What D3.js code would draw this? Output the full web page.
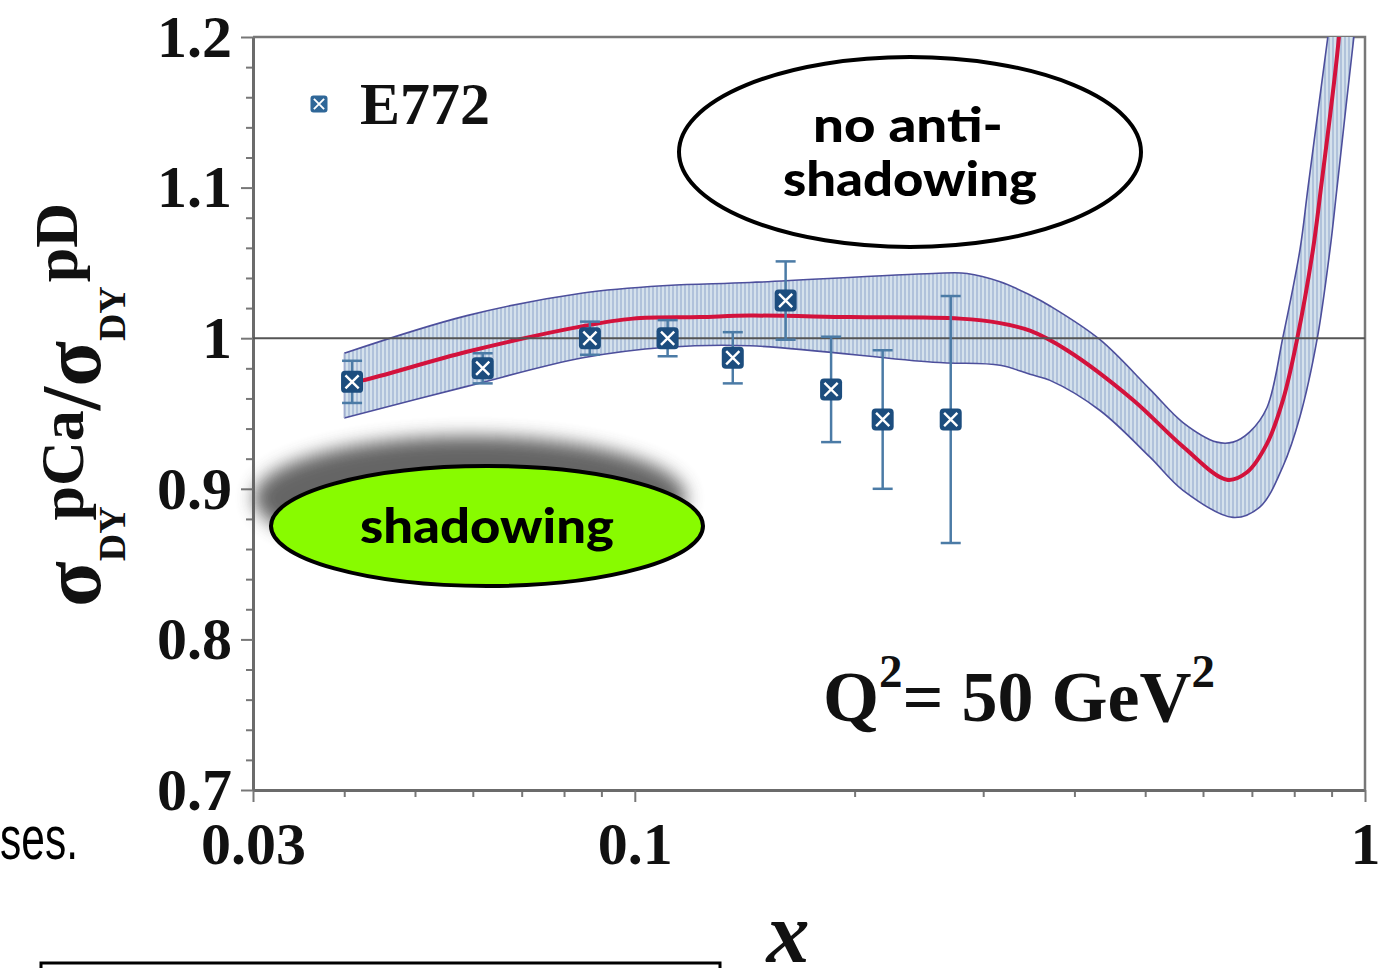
<!DOCTYPE html>
<html>
<head>
<meta charset="utf-8">
<script src="https://cdn.jsdelivr.net/npm/d3@7"></script>
<style>
  body { margin: 0; background: #fff; }
  svg { display: block; }
</style>
</head>
<body>
<svg id="chart" width="1381" height="968"></svg>
<script>
// E772 data points (x, ratio, error)
const e772X = [0.041, 0.0619, 0.0868, 0.1109, 0.1362, 0.1609, 0.1857, 0.2185, 0.2708]
const e772Y = [0.971, 0.980, 1.000, 1.000, 0.987, 1.025, 0.966, 0.946, 0.946]
const e772Err = [0.014, 0.010, 0.011, 0.012, 0.017, 0.026, 0.035, 0.046, 0.082]

// central fit (red)
const fitX = [0.04, 0.0424, 0.0589, 0.0849, 0.0994, 0.1228, 0.1438, 0.1971, 0.2789, 0.3164, 0.3477, 0.3908, 0.4812, 0.5633, 0.6472, 0.6893, 0.7342, 0.7722, 0.807, 0.8488, 0.8705, 0.9214, 0.93]
const fitY = [0.970, 0.972, 0.991, 1.008, 1.013, 1.014, 1.015, 1.014, 1.013, 1.010, 1.005, 0.992, 0.959, 0.928, 0.906, 0.911, 0.930, 0.959, 0.999, 1.059, 1.100, 1.201, 1.24]

// uncertainty band, upper and lower edges
const bandHiX = [0.04, 0.0589, 0.0849, 0.1107, 0.1438, 0.2561, 0.2851, 0.3164, 0.3477, 0.3704, 0.4336, 0.5077, 0.5633, 0.6271, 0.6595, 0.6959, 0.7342, 0.7722, 0.8147, 0.8355, 0.89, 0.925]
const bandHiY = [0.990, 1.015, 1.030, 1.035, 1.037, 1.043, 1.043, 1.0375, 1.0287, 1.0214, 0.999, 0.966, 0.944, 0.931, 0.931, 0.938, 0.954, 1.001, 1.059, 1.100, 1.201, 1.26]
const bandLoX = [0.04, 0.0589, 0.0849, 0.1107, 0.1438, 0.2561, 0.3164, 0.3477, 0.3704, 0.4336, 0.5077, 0.5633, 0.6595, 0.7182, 0.7722, 0.8147, 0.8596, 0.8956, 0.9156, 0.966, 1.0]
const bandLoY = [0.947, 0.968, 0.987, 0.994, 0.995, 0.984, 0.982, 0.976, 0.972, 0.952, 0.921, 0.899, 0.881, 0.888, 0.915, 0.948, 0.999, 1.059, 1.100, 1.201, 1.26]

// axes
const xTicks = [0.03, 0.1, 1]
const xTickLabels = ['0.03', '0.1', '1']
const xMinor = [0.04, 0.05, 0.06, 0.07, 0.08, 0.09, 0.2, 0.3, 0.4, 0.5, 0.6, 0.7, 0.8, 0.9]
const yTicks = [0.7, 0.8, 0.9, 1, 1.1, 1.2]
const yTickLabels = ['0.7', '0.8', '0.9', '1', '1.1', '1.2']
const yMinor = [0.72, 0.74, 0.76, 0.78, 0.82, 0.84, 0.86, 0.88, 0.92, 0.94, 0.96, 0.98, 1.02, 1.04, 1.06, 1.08, 1.12, 1.14, 1.16, 1.18]

const margin = { left: 253, right: 16, top: 37, bottom: 178 }
const W = 1381, H = 968

const svg = d3.select('#chart')
const defs = svg.append('defs')

const x = d3.scaleLog().domain([0.03, 1]).range([margin.left, W - margin.right])
const y = d3.scaleLinear().domain([0.7, 1.2]).range([H - margin.bottom, margin.top])

defs.append('clipPath').attr('id', 'plotClip')
  .append('rect')
  .attr('x', x(0.03)).attr('y', y(1.2))
  .attr('width', x(1) - x(0.03)).attr('height', y(0.7) - y(1.2))

const hatch = defs.append('pattern').attr('id', 'hatch')
  .attr('patternUnits', 'userSpaceOnUse').attr('width', 4).attr('height', 10)
hatch.append('rect').attr('width', 4).attr('height', 10).attr('fill', '#d4e1ec')
hatch.append('line').attr('x1', 1).attr('x2', 1).attr('y1', 0).attr('y2', 10)
  .attr('stroke', '#98aed0').attr('stroke-width', 1.2)

const blur = defs.append('filter').attr('id', 'shadowBlur')
  .attr('x', '-30%').attr('y', '-50%').attr('width', '160%').attr('height', '200%')
blur.append('feGaussianBlur').attr('stdDeviation', 9)

// ---- axes
const tickFont = g => g.selectAll('text')
  .style('font-family', '"Liberation Serif", "Times New Roman", serif')
  .style('font-weight', 'bold')
  .style('font-size', '60px')
  .attr('fill', '#111')

const xAxisMinor = d3.axisBottom(x).tickValues(xMinor).tickSize(7).tickFormat('').tickSizeOuter(0)
svg.append('g').attr('transform', `translate(0,${y(0.7)})`).call(xAxisMinor)
  .call(g => g.select('.domain').remove())
  .call(g => g.selectAll('line').attr('stroke', '#777').attr('stroke-width', 2))

const xAxis = d3.axisBottom(x).tickValues(xTicks).tickSize(12).tickPadding(19)
  .tickFormat((d, i) => xTickLabels[i]).tickSizeOuter(0)
svg.append('g').attr('transform', `translate(0,${y(0.7)})`).call(xAxis)
  .call(g => g.select('.domain').attr('stroke', '#6b6b6b').attr('stroke-width', 3))
  .call(g => g.selectAll('line').attr('stroke', '#777').attr('stroke-width', 2))
  .call(tickFont)

const yAxisMinor = d3.axisLeft(y).tickValues(yMinor).tickSize(7).tickFormat('').tickSizeOuter(0)
svg.append('g').attr('transform', `translate(${x(0.03)},0)`).call(yAxisMinor)
  .call(g => g.select('.domain').remove())
  .call(g => g.selectAll('line').attr('stroke', '#777').attr('stroke-width', 2))

const yAxis = d3.axisLeft(y).tickValues(yTicks).tickSize(12).tickPadding(9)
  .tickFormat((d, i) => yTickLabels[i]).tickSizeOuter(0)
svg.append('g').attr('transform', `translate(${x(0.03)},0)`).call(yAxis)
  .call(g => g.select('.domain').attr('stroke', '#6b6b6b').attr('stroke-width', 3))
  .call(g => g.selectAll('line').attr('stroke', '#777').attr('stroke-width', 2))
  .call(tickFont)

// frame top and right
svg.append('path')
  .attr('d', `M${x(0.03)},${y(1.2)}H${x(1)}V${y(0.7)}`)
  .attr('fill', 'none').attr('stroke', '#777').attr('stroke-width', 2.5)

// ---- band + fit
const plot = svg.append('g').attr('clip-path', 'url(#plotClip)')

const hiPts = bandHiX.map((d, i) => [x(d), y(bandHiY[i])])
const loPts = bandLoX.map((d, i) => [x(d), y(bandLoY[i])])
const smooth = d3.line().curve(d3.curveCatmullRom.alpha(0.5))

plot.append('path')
  .attr('d', smooth(hiPts) + smooth(loPts.slice().reverse()).replace('M', 'L') + 'Z')
  .attr('fill', 'url(#hatch)')

plot.selectAll('path.edge')
  .data([hiPts, loPts])
  .join('path')
  .attr('class', 'edge')
  .attr('d', smooth)
  .attr('fill', 'none')
  .attr('stroke', '#4d4f9c')
  .attr('stroke-width', 1.6)

plot.append('line')
  .attr('x1', x(0.04)).attr('x2', x(0.04))
  .attr('y1', y(bandHiY[0])).attr('y2', y(bandLoY[0]))
  .attr('stroke', '#9aa6cc').attr('stroke-width', 1.2)

// reference line at 1
svg.append('line')
  .attr('x1', x(0.03)).attr('x2', x(1))
  .attr('y1', y(1)).attr('y2', y(1))
  .attr('stroke', '#555').attr('stroke-width', 2)

plot.append('path')
  .attr('d', smooth(fitX.map((d, i) => [x(d), y(fitY[i])])))
  .attr('fill', 'none')
  .attr('stroke', '#d3123c')
  .attr('stroke-width', 4)

// ---- E772 points
const errCol = '#4b7ba6'
const pts = svg.append('g')
e772X.forEach((d, i) => {
  const cx = x(d), cy = y(e772Y[i])
  const top = y(e772Y[i] + e772Err[i]), bot = y(e772Y[i] - e772Err[i])
  pts.append('line').attr('x1', cx).attr('x2', cx).attr('y1', top).attr('y2', bot)
    .attr('stroke', errCol).attr('stroke-width', 2.5)
  ;[top, bot].forEach(v => pts.append('line')
    .attr('x1', cx - 10).attr('x2', cx + 10).attr('y1', v).attr('y2', v)
    .attr('stroke', errCol).attr('stroke-width', 2.5))
})

const drawMarker = (g, cx, cy, s, col) => {
  g.append('rect').attr('x', cx - s / 2).attr('y', cy - s / 2)
    .attr('width', s).attr('height', s).attr('rx', s * 0.18)
    .attr('fill', col)
  const k = s * 0.3
  g.append('path')
    .attr('d', `M${cx - k},${cy - k}L${cx + k},${cy + k}M${cx + k},${cy - k}L${cx - k},${cy + k}`)
    .attr('stroke', '#fff').attr('stroke-width', s * 0.11)
}
e772X.forEach((d, i) => drawMarker(pts, x(d), y(e772Y[i]), 22, '#1c4d7e'))

// legend
drawMarker(svg.append('g'), 319, 104, 17, '#2f6798')
svg.append('text')
  .attr('x', 360).attr('y', 124)
  .style('font-family', '"Liberation Serif", serif').style('font-weight', 'bold')
  .style('font-size', '60px').attr('fill', '#111')
  .text('E772')

// Q^2 annotation
const qText = svg.append('text')
  .attr('x', 823).attr('y', 721)
  .style('font-family', '"Liberation Serif", serif').style('font-weight', 'bold')
  .style('font-size', '72px').attr('fill', '#111')
qText.append('tspan').text('Q')
qText.append('tspan').attr('dy', -34).style('font-size', '47px').text('2')
qText.append('tspan').attr('dy', 34).text('= 50 GeV')
qText.append('tspan').attr('dy', -34).style('font-size', '47px').text('2')

// x-axis title
svg.append('text')
  .attr('x', 788).attr('y', 962).attr('text-anchor', 'middle')
  .style('font-family', '"Liberation Serif", serif').style('font-weight', 'bold')
  .style('font-style', 'italic').style('font-size', '86px').attr('fill', '#111')
  .text('x')

// y-axis title, rotated
const yt = svg.append('text')
  .attr('transform', 'translate(100,607) rotate(-90)')
  .style('font-family', '"Liberation Serif", serif').style('font-weight', 'bold')
  .style('font-size', '84px').attr('fill', '#111')
yt.append('tspan').text('σ')
yt.append('tspan').attr('dy', 25).style('font-size', '38px').text('DY')
yt.append('tspan').attr('dx', -14).attr('dy', -42).style('font-size', '62px').text('pCa')
yt.append('tspan').attr('dy', 17).text('/σ')
yt.append('tspan').attr('dy', 25).style('font-size', '38px').text('DY')
yt.append('tspan').attr('dx', 4).attr('dy', -48).style('font-size', '62px').text('pD')

// ---- bubbles
const bubbleFont = t => t
  .attr('text-anchor', 'middle')
  .style('font-family', 'Lato, "Open Sans", sans-serif')
  .style('font-weight', 900)
  .style('font-size', '48px')
  .attr('fill', '#000')
  .attr('lengthAdjust', 'spacingAndGlyphs')

svg.append('ellipse')
  .attr('cx', 910).attr('cy', 152).attr('rx', 231).attr('ry', 95)
  .attr('fill', '#fff').attr('stroke', '#000').attr('stroke-width', 4)
svg.append('text').attr('x', 908).attr('y', 142).attr('textLength', 190).call(bubbleFont).text('no anti-')
svg.append('text').attr('x', 910).attr('y', 196).attr('textLength', 254).call(bubbleFont).text('shadowing')

svg.append('ellipse')
  .attr('cx', 470).attr('cy', 498).attr('rx', 216).attr('ry', 62)
  .attr('fill', '#555').attr('opacity', 0.9)
  .attr('filter', 'url(#shadowBlur)')
svg.append('ellipse')
  .attr('cx', 487).attr('cy', 526).attr('rx', 216).attr('ry', 60)
  .attr('fill', '#88fb00').attr('stroke', '#000').attr('stroke-width', 4)
svg.append('text').attr('x', 487).attr('y', 543).attr('textLength', 254).call(bubbleFont).text('shadowing')

// ---- slide leftovers
svg.append('text')
  .attr('x', 0).attr('y', 859)
  .attr('textLength', 78).attr('lengthAdjust', 'spacingAndGlyphs')
  .style('font-family', '"Liberation Sans", Arial, sans-serif')
  .style('font-size', '62px').attr('fill', '#000')
  .text('ses.')
svg.append('rect')
  .attr('x', 41).attr('y', 963).attr('width', 679).attr('height', 30)
  .attr('fill', 'none').attr('stroke', '#000').attr('stroke-width', 3)
</script>
</body>
</html>
